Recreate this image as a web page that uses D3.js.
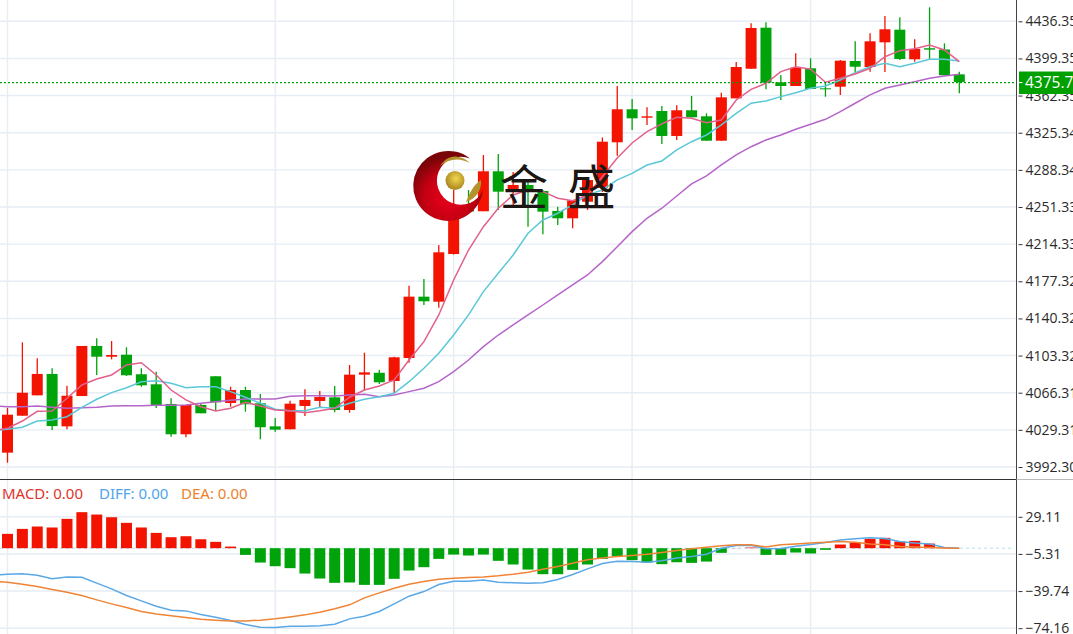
<!DOCTYPE html>
<html>
<head>
<meta charset="utf-8">
<script src="https://cdn.jsdelivr.net/npm/d3@7"></script>
<style>
    html, body { margin: 0; padding: 0; background: #fff; overflow: hidden; }
    svg { display: block; font-family: "Open Sans", "Noto Sans", sans-serif; }
</style>
</head>
<body>
<svg id="vizSVG" width="1073" height="634"></svg>
<script>
const opens = [4006.6,4043.4,4063.7,4085.0,4032.8,4063.0,4112.9,4102.2,4104.2,4084.7,4074.7,4055.1,4024.9,4054.1,4082.7,4056.1,4069.0,4055.8,4032.8,4029.9,4053.1,4058.1,4061.7,4049.1,4084.3,4086.2,4078.0,4100.9,4162.0,4157.0,4204.5,4253.4,4247.1,4286.9,4267.3,4273.3,4267.3,4247.4,4240.1,4256.6,4270.3,4315.8,4348.7,4340.3,4347.0,4322.1,4347.7,4341.7,4317.4,4359.6,4389.1,4430.0,4375.6,4371.9,4389.5,4369.6,4371.2,4396.8,4390.8,4415.4,4428.0,4398.5,4409.5,4408.3,4383.5]
const highs = [4051.1,4116.5,4100.6,4090.6,4073.3,4112.9,4120.5,4117.8,4111.6,4090.6,4087.3,4060.7,4054.1,4055.1,4082.7,4072.3,4072.3,4065.0,4041.1,4058.4,4069.7,4068.0,4073.0,4093.9,4106.2,4088.9,4102.2,4172.9,4179.6,4213.5,4268.3,4268.3,4303.1,4304.1,4286.2,4278.2,4268.3,4251.6,4258.3,4278.2,4320.6,4371.9,4358.9,4350.7,4352.0,4352.7,4361.9,4344.7,4365.2,4395.8,4434.4,4435.3,4382.9,4404.5,4399.5,4375.6,4397.8,4416.4,4424.4,4441.6,4440.3,4418.4,4450.3,4414.4,4386.1]
const lows = [3996.6,4043.4,4063.7,4029.2,4029.9,4063.0,4084.0,4099.6,4083.0,4072.3,4051.1,4022.5,4021.9,4045.8,4048.4,4052.4,4047.4,4019.9,4027.5,4029.9,4043.1,4051.8,4046.8,4046.4,4069.0,4075.0,4065.7,4096.2,4153.7,4151.0,4204.0,4246.3,4247.1,4248.4,4250.3,4231.7,4224.1,4233.4,4230.1,4248.4,4266.3,4302.4,4328.1,4333.0,4314.1,4318.1,4340.7,4317.4,4317.4,4359.6,4389.1,4368.6,4357.9,4371.9,4368.9,4361.2,4362.9,4385.1,4386.1,4385.8,4397.8,4396.1,4398.5,4382.6,4364.6]
const closes = [4044.4,4066.3,4085.0,4033.1,4063.3,4112.9,4102.2,4103.9,4083.7,4073.7,4054.1,4024.9,4054.1,4045.8,4056.8,4069.0,4054.8,4031.9,4029.5,4055.4,4059.1,4062.0,4049.1,4084.3,4086.6,4076.7,4101.6,4162.0,4157.4,4206.2,4253.3,4246.9,4286.9,4266.6,4273.3,4267.3,4246.7,4240.1,4258.0,4278.2,4316.4,4348.7,4339.7,4341.7,4322.1,4347.7,4340.7,4317.4,4360.6,4390.8,4429.7,4375.2,4371.9,4390.1,4368.9,4368.6,4397.1,4391.1,4416.4,4428.4,4398.8,4408.8,4408.1,4382.6,4375.76]

// Линии начинаются на одну свечу левее края графика
const ma5 = [4028.5,4030.9,4038.1,4047.8,4048.1,4060.8,4074.0,4080.0,4084.0,4094.0,4096.2,4084.0,4069.0,4059.1,4052.4,4048.1,4050.8,4056.8,4053.1,4049.1,4048.4,4046.4,4048.4,4050.8,4061.8,4069.0,4073.0,4079.0,4098.9,4117.2,4143.8,4178.6,4208.5,4231.7,4250.1,4263.3,4268.3,4266.6,4260.0,4257.6,4263.3,4281.6,4300.2,4315.1,4326.4,4334.1,4340.7,4339.7,4335.4,4338.0,4358.0,4368.6,4374.6,4386.2,4391.1,4388.6,4375.6,4379.6,4383.9,4389.6,4401.1,4407.1,4409.1,4412.8,4407.8,4396.1]
const ma10 = [4028.5,4029.9,4031.9,4038.1,4039.2,4042.4,4051.8,4059.8,4066.4,4071.3,4077.3,4078.3,4075.7,4071.3,4072.3,4072.3,4067.4,4061.8,4055.8,4049.8,4048.4,4048.4,4051.8,4050.8,4055.8,4059.8,4062.4,4065.8,4077.3,4090.7,4105.6,4123.8,4143.8,4167.0,4185.3,4203.5,4225.2,4238.4,4245.1,4253.4,4263.3,4268.3,4278.3,4284.9,4293.2,4297.2,4308.2,4316.4,4323.1,4333.1,4344.7,4354.7,4357.0,4361.3,4365.2,4369.6,4371.9,4377.9,4385.2,4391.1,4394.5,4391.1,4394.5,4398.5,4398.5,4396.8]
const ma20 = [4053.1,4052.4,4052.4,4053.1,4051.8,4050.8,4051.4,4051.8,4053.1,4053.4,4053.4,4053.8,4053.8,4054.1,4055.8,4057.4,4058.8,4060.1,4060.1,4060.1,4062.8,4063.4,4063.4,4063.1,4064.1,4064.8,4062.4,4064.1,4067.4,4070.7,4077.3,4087.3,4098.9,4112.2,4123.8,4133.8,4143.8,4153.7,4163.7,4173.7,4183.6,4196.9,4211.8,4226.8,4240.1,4250.1,4262.3,4274.3,4282.3,4293.2,4303.2,4311.4,4318.1,4323.1,4328.8,4333.8,4338.7,4346.3,4354.7,4363.0,4369.6,4372.9,4376.2,4379.6,4381.9,4383.6]

const macdBars = [13.3,17.9,20.1,19.2,27.2,33.4,31.2,28.7,23.5,19.2,14.2,10.2,11.1,8.3,5.9,1.5,-6.2,-13.3,-16.7,-18.5,-23.5,-28.1,-32.1,-31.8,-34.0,-34.0,-28.4,-20.7,-17.6,-9.9,-5.9,-6.8,-5.9,-11.7,-15.1,-19.8,-24.1,-24.1,-20.1,-15.1,-9.9,-7.7,-11.1,-13.3,-14.8,-13.0,-13.6,-12.4,-4.3,0.1,0.6,-6.2,-6.2,-4.0,-4.9,-1.5,3.4,5.3,8.7,9.6,6.2,6.8,4.3,0.3,0]
const diff = [-25.3,-24.1,-23.8,-25.0,-28.4,-26.6,-26.9,-32.4,-37.7,-43.9,-48.8,-53.8,-57.5,-58.1,-61.5,-64.0,-67.1,-70.8,-73.2,-73.5,-72.3,-72.3,-72.0,-70.5,-65.5,-63.0,-58.7,-51.6,-44.5,-40.2,-33.7,-30.6,-30.6,-29.4,-31.5,-32.1,-32.4,-32.1,-29.0,-24.4,-19.2,-14.2,-12.1,-12.4,-13.0,-11.7,-9.0,-7.7,-5.6,0,2.5,2.8,-0.6,-0.3,1.9,3.4,5.3,7.7,8.7,9.6,9.0,6.2,4.9,4.0,0.6,0]
const dea = [-30.9,-31.5,-33.4,-35.5,-38.3,-40.8,-43.9,-47.9,-51.6,-55.0,-58.7,-60.9,-62.7,-64.3,-65.8,-66.7,-67.4,-67.4,-66.7,-65.5,-63.7,-61.8,-59.3,-56.2,-52.5,-46.0,-41.4,-37.1,-33.4,-30.9,-28.7,-27.8,-27.2,-26.6,-25.6,-24.1,-22.2,-19.5,-17.0,-13.9,-10.8,-9.0,-7.7,-6.8,-5.6,-4.0,-2.2,-0.6,0.9,2.2,3.1,3.1,1.2,3.1,4.0,4.9,5.6,6.2,5.6,4.0,3.1,1.5,1.2,0.6,0.3,0]

const priceTicks = [4436.35,4399.35,4362.35,4325.34,4288.34,4251.33,4214.33,4177.32,4140.32,4103.32,4066.31,4029.31,3992.30]
const macdTicks = [29.11,-5.31,-39.74,-74.16]
const gridCandles = [0,18,30,42,54]
const lastPrice = 4375.76

const RED = '#f21300'
const GREEN = '#00a30a'
const WIDTH = 1073
const HEIGHT = 634
const AXIS_X = 1016.5
const PANEL_Y = 479.5
const BODY_W = 11

const svg = d3.select('#vizSVG')

const x = d3.scaleLinear().domain([0, 64]).range([7.5, 959.3])
const y = d3.scaleLinear().domain([4436.35, 3992.30]).range([21.3, 467])
const yMacd = d3.scaleLinear().domain([29.11, -74.16]).range([516.8, 628.2])

// Сетка
const grid = svg.append('g').attr('stroke', '#e6edf5').attr('stroke-width', 1.4)
grid.selectAll('line.h')
    .data(priceTicks)
    .join('line')
    .attr('class', 'h')
    .attr('x1', 0).attr('x2', AXIS_X)
    .attr('y1', d => y(d)).attr('y2', d => y(d))
grid.selectAll('line.m')
    .data(macdTicks)
    .join('line')
    .attr('class', 'm')
    .attr('x1', 0).attr('x2', AXIS_X)
    .attr('y1', d => yMacd(d)).attr('y2', d => yMacd(d))
grid.selectAll('line.v')
    .data(gridCandles)
    .join('line')
    .attr('class', 'v')
    .attr('x1', d => x(d)).attr('x2', d => x(d))
    .attr('y1', 0).attr('y2', HEIGHT)

// Свечи
const candles = svg.append('g')
    .selectAll('g')
    .data(opens.map((o, i) => ({ i, o, h: highs[i], l: lows[i], c: closes[i] })))
    .join('g')
    .attr('fill', d => (d.c >= d.o ? RED : GREEN))
    .attr('stroke', d => (d.c >= d.o ? RED : GREEN))
candles.append('line')
    .attr('x1', d => x(d.i)).attr('x2', d => x(d.i))
    .attr('y1', d => y(d.h)).attr('y2', d => y(d.l))
    .attr('stroke-width', 1.3)
candles.append('rect')
    .attr('x', d => x(d.i) - BODY_W / 2)
    .attr('width', BODY_W)
    .attr('y', d => y(Math.max(d.o, d.c)))
    .attr('height', d => Math.abs(y(d.o) - y(d.c)))
    .attr('stroke', 'none')

const lineFrom = scale => d3.line().x((d, i) => x(i - 1)).y(d => scale(d))

const drawLine = (values, scale, color) =>
    svg.append('path')
        .attr('d', lineFrom(scale)(values))
        .attr('fill', 'none')
        .attr('stroke', color)
        .attr('stroke-width', 1.5)

drawLine(ma20, y, '#b565c9')
drawLine(ma10, y, '#5ac8d8')
drawLine(ma5, y, '#e2608c')

// Текущая цена
svg.append('line')
    .attr('x1', 0).attr('x2', AXIS_X)
    .attr('y1', y(lastPrice) + 0.5).attr('y2', y(lastPrice) + 0.5)
    .attr('stroke', GREEN)
    .attr('stroke-width', 1.2)
    .attr('stroke-dasharray', '2 2')

// Нулевая линия и столбцы MACD
svg.append('line')
    .attr('x1', 0).attr('x2', 1013)
    .attr('y1', yMacd(0)).attr('y2', yMacd(0))
    .attr('stroke', '#b3dfe9')
    .attr('stroke-dasharray', '3 3')

svg.append('g')
    .selectAll('rect')
    .data(macdBars)
    .join('rect')
    .attr('x', (d, i) => x(i) - BODY_W / 2)
    .attr('width', BODY_W)
    .attr('y', d => Math.min(yMacd(d), yMacd(0)))
    .attr('height', d => Math.abs(yMacd(d) - yMacd(0)))
    .attr('fill', d => (d >= 0 ? RED : GREEN))

drawLine(diff, yMacd, '#5ba8e6')
drawLine(dea, yMacd, '#ef8436')

// Логотип поверх графика
const defs = svg.append('defs')
const moonGrad = defs.append('radialGradient')
    .attr('id', 'moon')
    .attr('gradientUnits', 'userSpaceOnUse')
    .attr('cx', 448).attr('cy', 197).attr('r', 40)
moonGrad.append('stop').attr('offset', '0%').attr('stop-color', '#ea001c')
moonGrad.append('stop').attr('offset', '60%').attr('stop-color', '#c40012')
moonGrad.append('stop').attr('offset', '100%').attr('stop-color', '#7a0508')
const ballGrad = defs.append('radialGradient')
    .attr('id', 'ball')
    .attr('cx', '55%').attr('cy', '40%').attr('r', '60%')
ballGrad.append('stop').attr('offset', '0%').attr('stop-color', '#f2d84e')
ballGrad.append('stop').attr('offset', '100%').attr('stop-color', '#a98420')

const logo = svg.append('g')
logo.append('path')
    .attr('d', 'M470,158.5 A35,35 0 1 0 483,190 A24,24 0 1 1 470,158.5 Z')
    .attr('fill', 'url(#moon)')
logo.append('path')
    .attr('d', 'M440,166 C446,156 458,152 470,163 C460,158 450,158 440,166 Z')
    .attr('fill', '#b3932c')
logo.append('path')
    .attr('d', 'M466,202 C476,199 482,190 481,180 C474,184 469,194 466,202 Z')
    .attr('fill', '#b3932c')
logo.append('circle')
    .attr('cx', 455).attr('cy', 180.5).attr('r', 9.5)
    .attr('fill', 'url(#ball)')

svg.append('text')
    .attr('x', 500).attr('y', 204.5)
    .attr('font-family', '"Noto Sans CJK SC"')
    .attr('font-size', 48)
    .attr('fill', '#1c1614')
    .text('金')
svg.append('text')
    .attr('x', 567.5).attr('y', 204.5)
    .attr('font-family', '"Noto Sans CJK SC"')
    .attr('font-size', 48)
    .attr('fill', '#1c1614')
    .text('盛')

// Оси
svg.append('rect')
    .attr('x', AXIS_X).attr('y', 0)
    .attr('width', WIDTH - AXIS_X).attr('height', HEIGHT)
    .attr('fill', '#fff')

const styleAxis = g => {
    g.select('.domain').remove()
    g.selectAll('.tick line').attr('stroke', '#333')
    g.selectAll('.tick text')
        .attr('fill', '#2a2a2a')
        .attr('font-family', '"Open Sans"')
        .attr('font-size', 14)
}

svg.append('g')
    .attr('transform', `translate(${AXIS_X + 2},0)`)
    .call(d3.axisRight(y).tickValues(priceTicks).tickSize(4).tickPadding(3).tickFormat(d3.format('.2f')))
    .call(styleAxis)
svg.append('g')
    .attr('transform', `translate(${AXIS_X + 2},0)`)
    .call(d3.axisRight(yMacd).tickValues(macdTicks).tickSize(4).tickPadding(3).tickFormat(d3.format('.2f')))
    .call(styleAxis)

svg.append('line')
    .attr('x1', AXIS_X).attr('x2', AXIS_X)
    .attr('y1', 0).attr('y2', HEIGHT)
    .attr('stroke', '#444')
svg.append('line')
    .attr('x1', 0).attr('x2', AXIS_X)
    .attr('y1', PANEL_Y).attr('y2', PANEL_Y)
    .attr('stroke', '#333')
svg.append('line')
    .attr('x1', AXIS_X).attr('x2', WIDTH)
    .attr('y1', PANEL_Y).attr('y2', PANEL_Y)
    .attr('stroke', '#bbb')

// Подпись текущей цены
svg.append('rect')
    .attr('x', AXIS_X + 2.5).attr('width', WIDTH - AXIS_X)
    .attr('y', y(lastPrice) - 10.6).attr('height', 22.5)
    .attr('fill', '#00a000')
svg.append('line')
    .attr('x1', AXIS_X + 2).attr('x2', AXIS_X + 6)
    .attr('y1', y(lastPrice) + 0.5).attr('y2', y(lastPrice) + 0.5)
    .attr('stroke', '#fff')
svg.append('text')
    .attr('x', AXIS_X + 8.5).attr('y', y(lastPrice) + 0.5)
    .attr('dy', '0.35em')
    .attr('fill', '#fff')
    .attr('font-family', '"Open Sans"')
    .attr('font-size', 15.5)
    .text(d3.format('.2f')(lastPrice))

// Легенда MACD
const legend = svg.append('text')
    .attr('x', 2).attr('y', 498.5)
    .attr('font-family', '"Noto Sans"')
    .attr('font-size', 15)
legend.append('tspan').attr('fill', '#e0352b').text('MACD: 0.00')
legend.append('tspan').attr('x', 99).attr('fill', '#4ea5ec').text('DIFF: 0.00')
legend.append('tspan').attr('x', 181).attr('fill', '#ee7f2d').text('DEA: 0.00')
</script>
</body>
</html>
